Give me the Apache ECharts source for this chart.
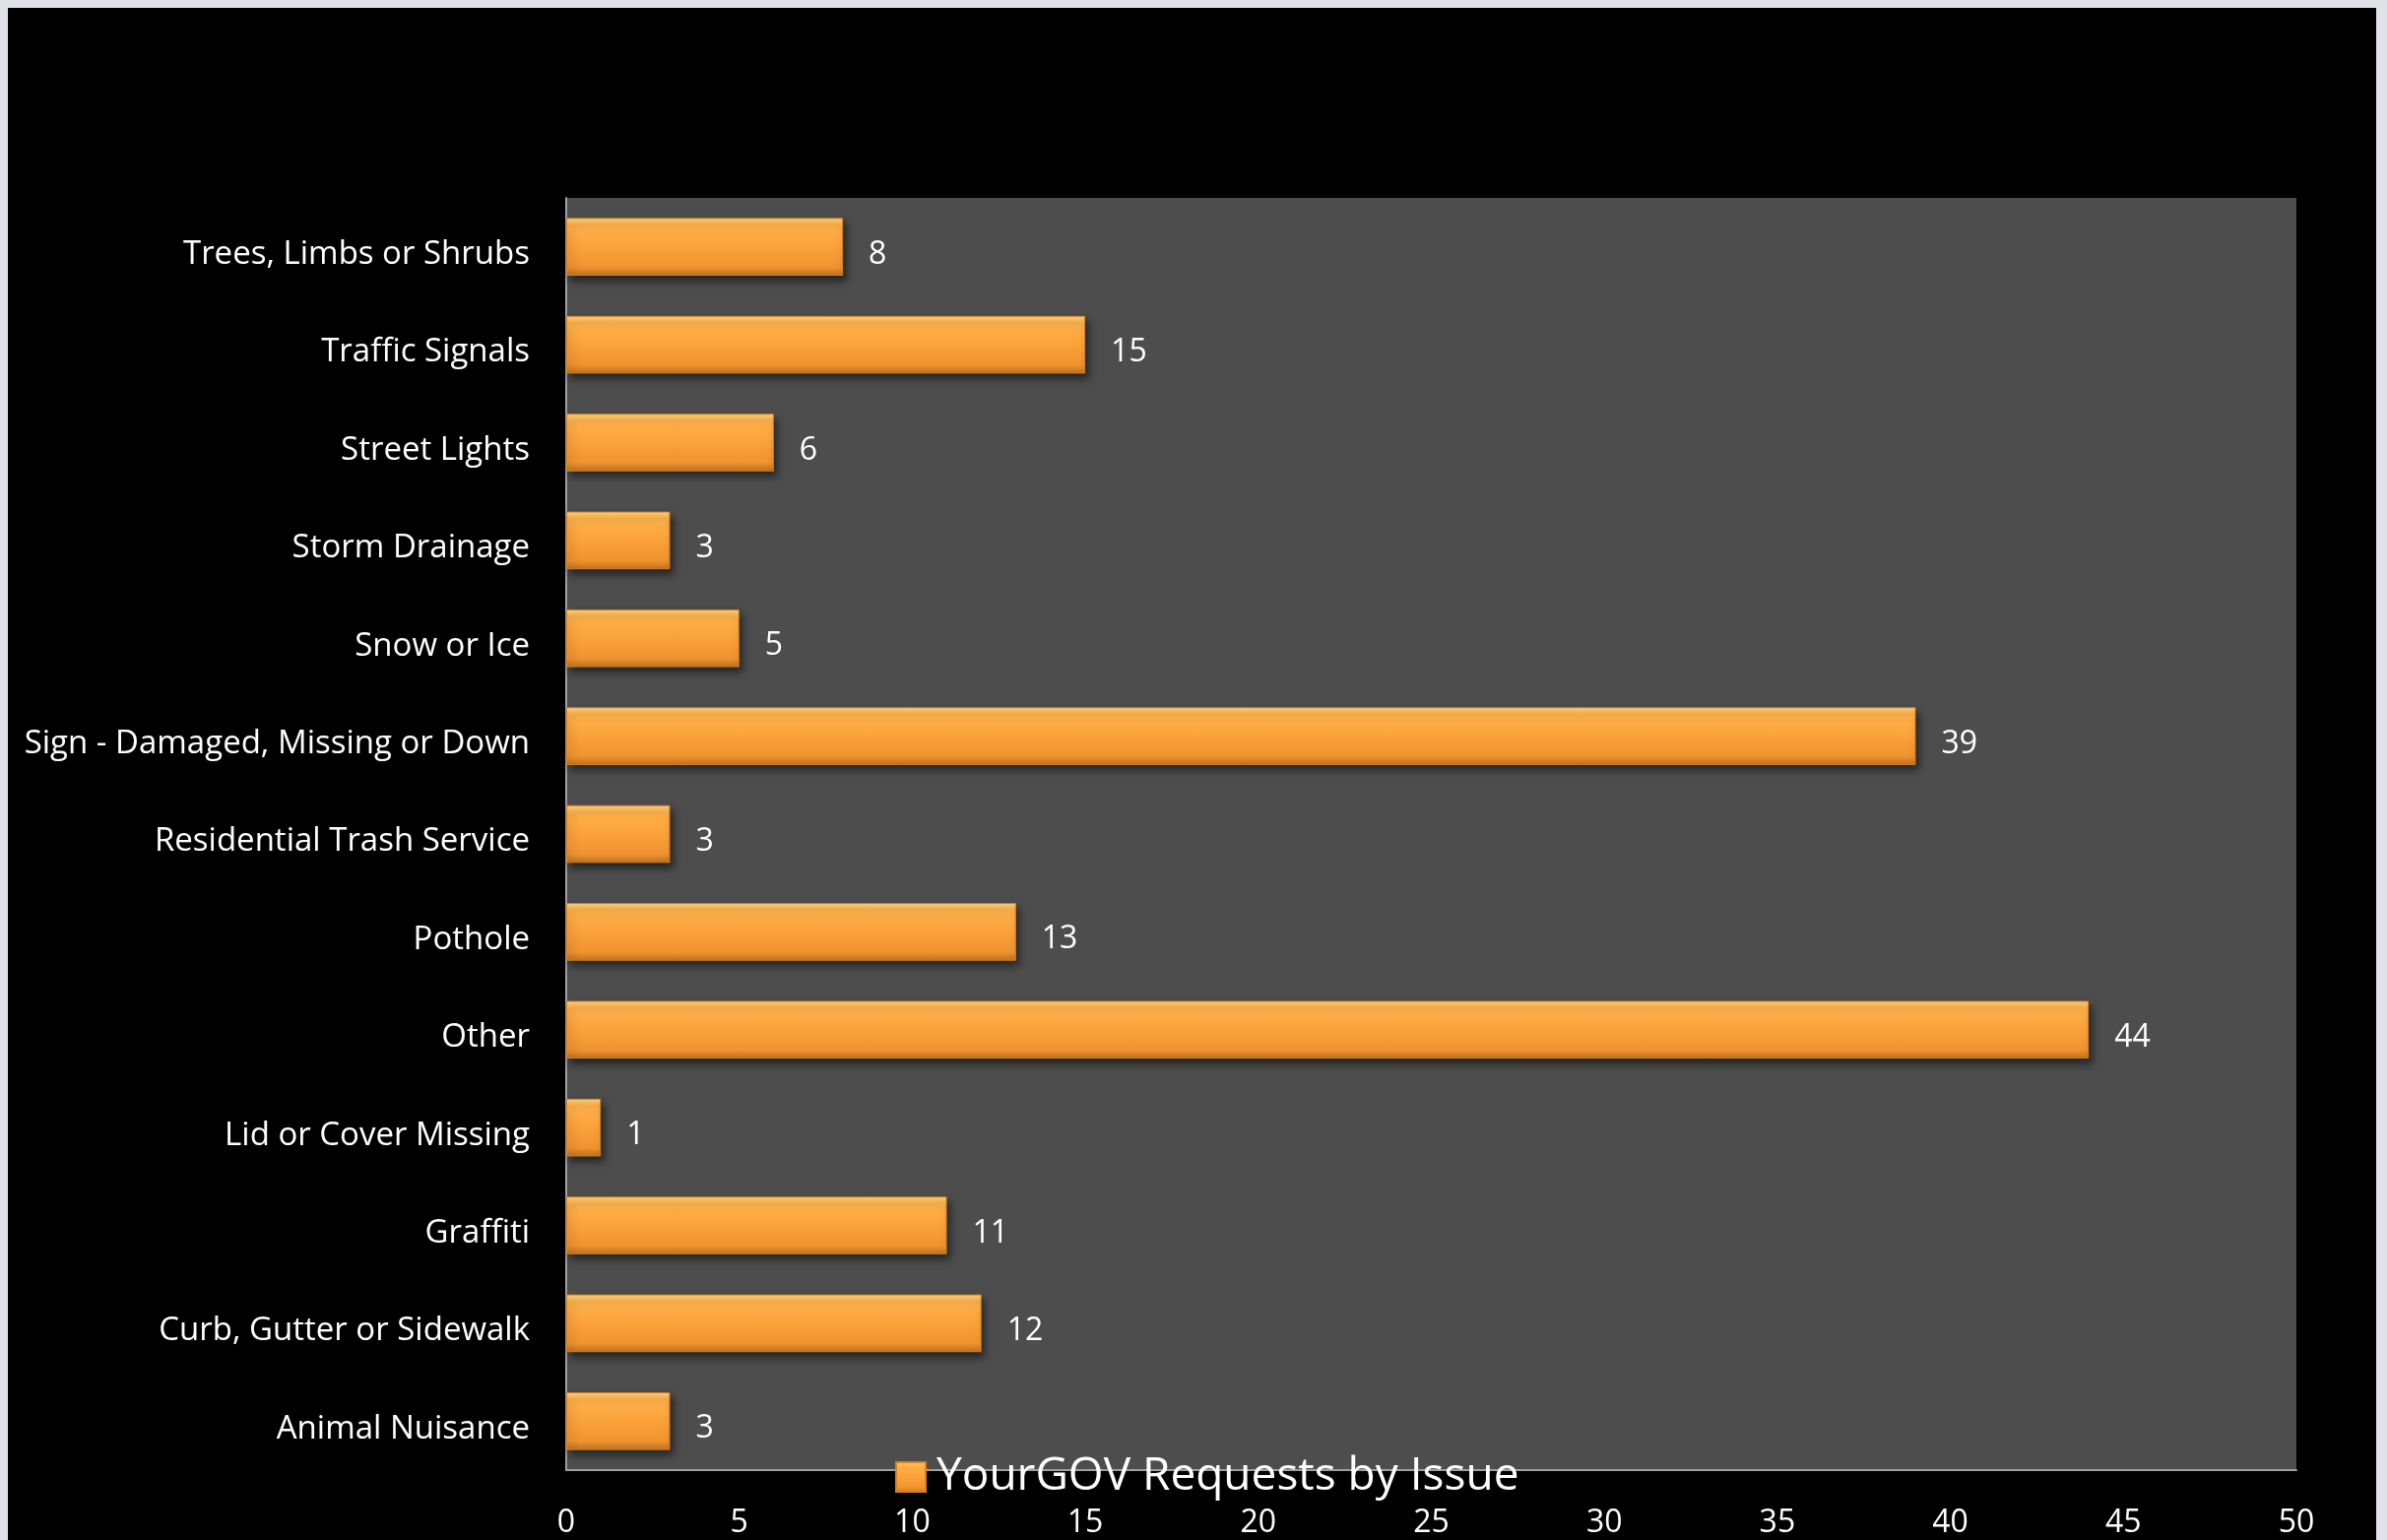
<!DOCTYPE html>
<html>
<head>
<meta charset="utf-8">
<script src="https://cdn.jsdelivr.net/npm/echarts@6/dist/echarts.min.js"></script>
<style>
  html, body { margin: 0; padding: 0; background: #dfe3e8; }
  #chart {
    position: absolute;
    left: 8px;
    top: 8px;
    width: 2405px;
    height: 1556px;
    background: #000;
  }
</style>
</head>
<body>
<div id="chart"></div>
<script>
// categories listed bottom -> top (echarts draws the first category at the bottom)
var issues = [
  "Animal Nuisance",
  "Curb, Gutter or Sidewalk",
  "Graffiti",
  "Lid or Cover Missing",
  "Other",
  "Pothole",
  "Residential Trash Service",
  "Sign - Damaged, Missing or Down",
  "Snow or Ice",
  "Storm Drainage",
  "Street Lights",
  "Traffic Signals",
  "Trees, Limbs or Shrubs"
];
var requests = [3, 12, 11, 1, 44, 13, 3, 39, 5, 3, 6, 15, 8];
var seriesName = "YourGOV Requests by Issue";

var chart = echarts.init(document.getElementById("chart"));

var orange = new echarts.graphic.LinearGradient(0, 0, 0, 1, [
  { offset: 0, color: "#ffd888" },
  { offset: 0.12, color: "#ffb24c" },
  { offset: 0.5, color: "#fba23a" },
  { offset: 0.85, color: "#ef9330" },
  { offset: 1, color: "#c07222" }
]);

var option = {
  backgroundColor: "#000",
  textStyle: { fontFamily: "Open Sans" },
  legend: {
    left: 896,
    top: 1464,
    itemWidth: 30,
    itemHeight: 30,
    icon: "rect",
    itemGap: 10,
    textStyle: {
      color: "#fff",
      fontSize: 46,
      padding: [6, 0, 0, 6],
      fontFamily: "Open Sans"
    },
    data: [seriesName]
  },
  grid: {
    show: true,
    left: 567,
    top: 193,
    right: 81,
    bottom: 71,
    backgroundColor: "#4d4d4d",
    borderWidth: 0,
    containLabel: false
  },
  xAxis: {
    type: "value",
    min: 0,
    max: 50,
    interval: 5,
    axisLine: { show: true, lineStyle: { color: "#a0a0a0", width: 2 } },
    axisTick: { show: false },
    splitLine: { show: false },
    axisLabel: {
      color: "#fff",
      fontSize: 32,
      margin: 38,
      fontFamily: "Open Sans"
    }
  },
  yAxis: {
    type: "category",
    data: issues,
    axisLine: { show: true, lineStyle: { color: "#a0a0a0", width: 2 } },
    axisTick: { show: false },
    splitLine: { show: false },
    axisLabel: {
      color: "#fff",
      fontSize: 33,
      margin: 37,
      verticalAlign: "top",
      lineHeight: 16,
      fontFamily: "Open Sans"
    }
  },
  series: [
    {
      name: seriesName,
      type: "bar",
      data: requests,
      barWidth: "59%",
      itemStyle: {
        color: orange,
        borderColor: "#d5811f",
        borderWidth: 1,
        shadowColor: "rgba(0,0,0,0.55)",
        shadowBlur: 8,
        shadowOffsetX: 3,
        shadowOffsetY: 5
      },
      label: {
        show: true,
        position: "right",
        distance: 26,
        offset: [0, 8],
        color: "#fff",
        fontSize: 32,
        fontFamily: "Open Sans"
      }
    }
  ]
};

chart.setOption(option);
</script>
</body>
</html>
